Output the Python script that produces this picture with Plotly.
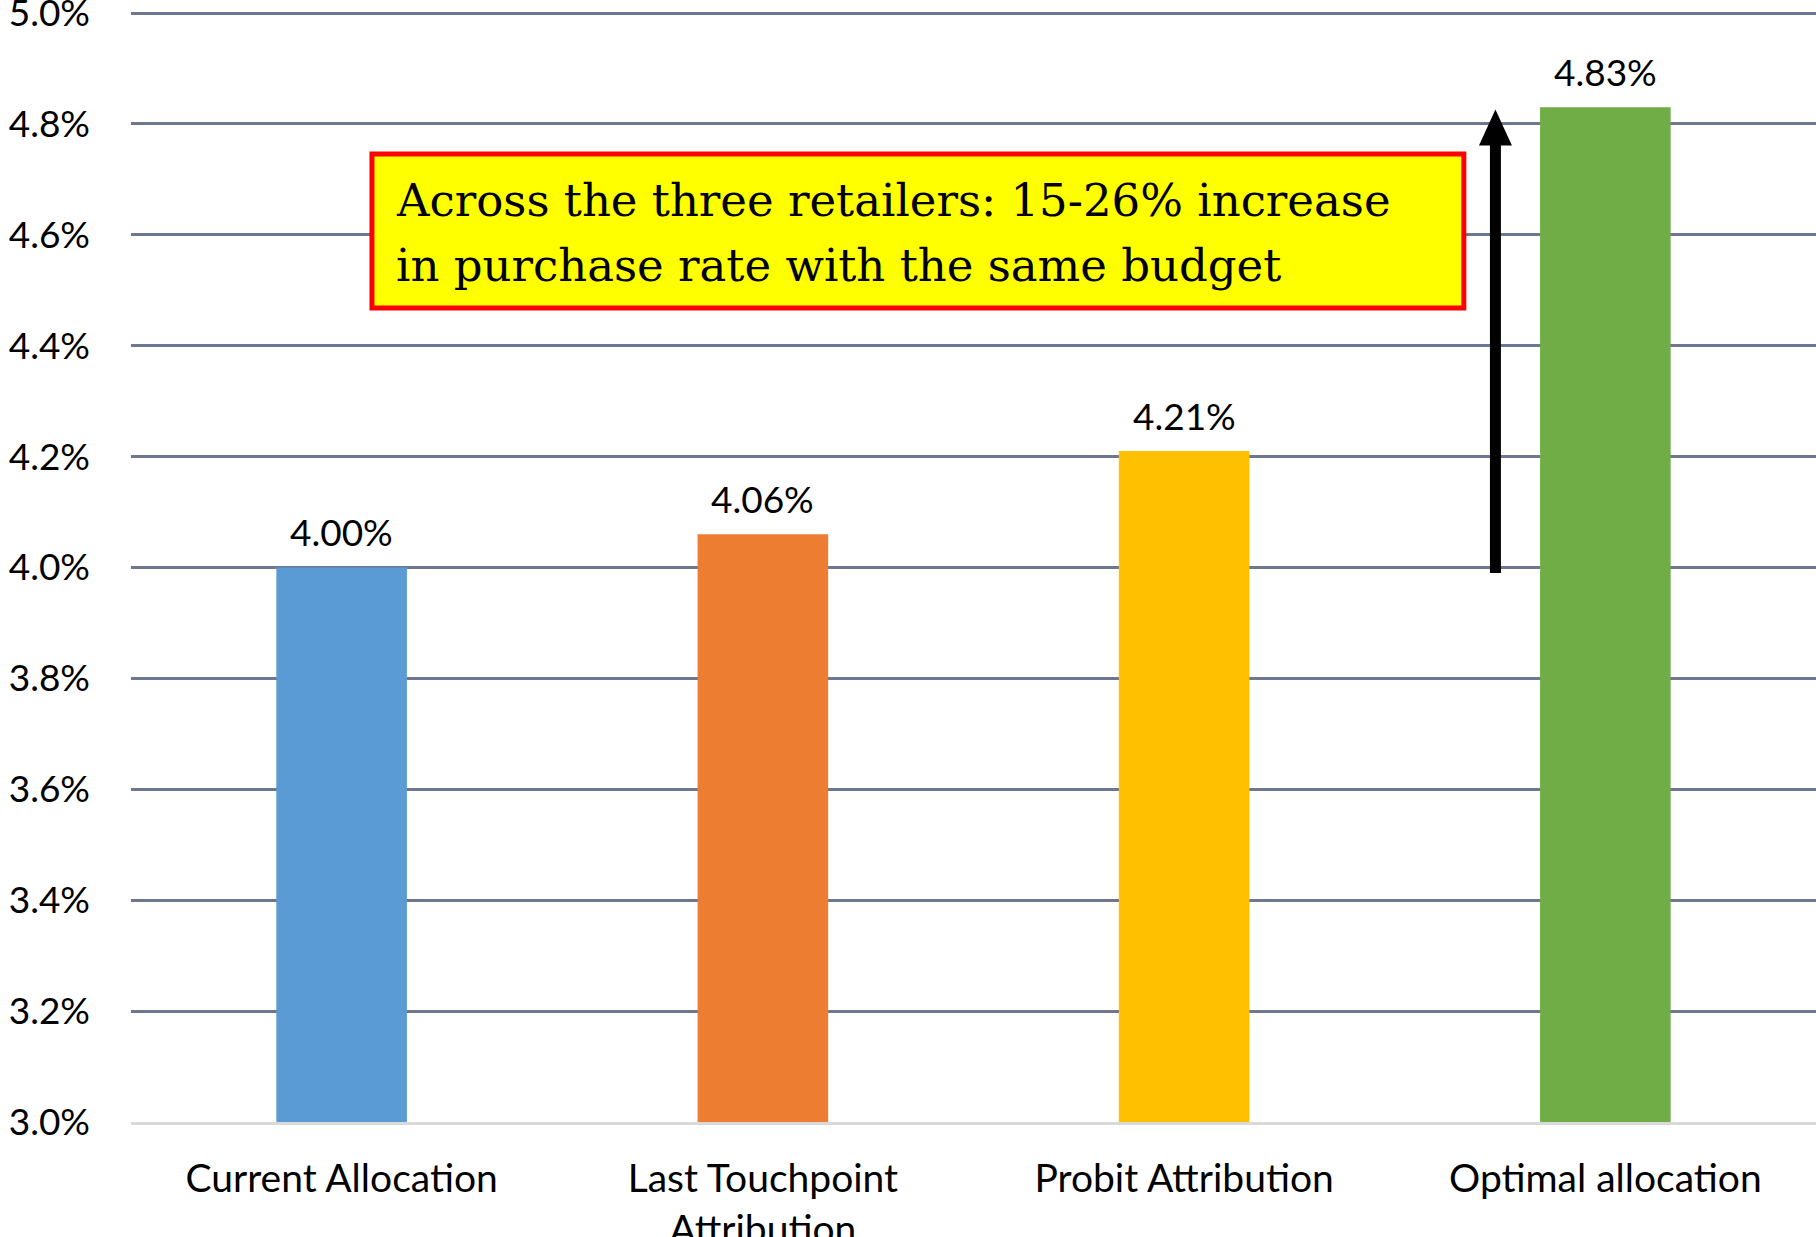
import plotly.graph_objects as go

# Purchase rate under each budget allocation strategy
categories = ["Current Allocation", "Last Touchpoint Attribution",
              "Probit Attribution", "Optimal allocation"]
tick_labels = ["Current Allocation", "Last Touchpoint<br>Attribution",
               "Probit Attribution", "Optimal allocation"]
purchase_rate = [4.00, 4.06, 4.21, 4.83]
bar_colors = ["#5B9BD5", "#ED7D31", "#FFC000", "#70AD47"]
y_ticks = [3.0, 3.2, 3.4, 3.6, 3.8, 4.0, 4.2, 4.4, 4.6, 4.8, 5.0]

callout_lines = ["Across the three retailers: 15-26% increase",
                 "in purchase rate with the same budget"]

LABEL_FONT = dict(family="Lato", size=37, color="black")

fig = go.Figure(
    go.Bar(
        x=categories,
        y=purchase_rate,
        marker=dict(color=bar_colors, line=dict(width=0)),
        width=0.31,
        hoverinfo="skip",
    )
)

# Value labels above each bar
for cat, val in zip(categories, purchase_rate):
    fig.add_annotation(
        x=cat, y=val, xref="x", yref="y",
        text=f"{val:.2f}%", showarrow=False,
        yanchor="middle", yshift=36,
        font=LABEL_FONT,
    )

# Callout box (pixel layout: plot area spans y = 2 .. 1122)
def py(px):
    return (1122 - px) / 1120

fig.add_shape(
    type="rect", xref="paper", yref="paper",
    x0=0.143, x1=0.791, y0=py(308), y1=py(154),
    fillcolor="#FFFF00", line=dict(color="#FF0000", width=5),
    layer="above",
)
for line_text, y_px in zip(callout_lines, [200, 265]):
    fig.add_annotation(
        xref="paper", yref="paper", x=0.156, y=py(y_px),
        xanchor="left", yanchor="middle", align="left",
        text=line_text, showarrow=False,
        font=dict(family="DejaVu Serif", size=45, color="black"),
    )

# Upward arrow from the baseline level to the optimal level
arrow_x = 2.739
fig.add_shape(
    type="line", xref="x", yref="y",
    x0=arrow_x, x1=arrow_x, y0=3.99, y1=4.77,
    line=dict(color="black", width=11), layer="above",
)
fig.add_shape(
    type="path", xref="x", yref="y",
    xsizemode="pixel", xanchor=arrow_x,
    path="M -16.5,4.761 L 16.5,4.761 L 0,4.826 Z",
    fillcolor="black", line=dict(color="black", width=0), layer="above",
)

fig.update_layout(
    width=1816, height=1237,
    margin=dict(l=131, r=0, t=2, b=115),
    paper_bgcolor="white", plot_bgcolor="white",
    showlegend=False,
    bargap=0.69,
    xaxis=dict(
        tickmode="array", tickvals=categories, ticktext=tick_labels,
        tickfont=dict(family="Lato", size=39, color="black"),
        showgrid=False, automargin=False,
        showline=True, linecolor="#D9D9D9", linewidth=3,
        ticks="", ticklabelstandoff=20,
    ),
    yaxis=dict(
        range=[3.0, 5.02], tickmode="array", tickvals=y_ticks,
        ticktext=[f"{v:.1f}%" for v in y_ticks],
        tickfont=LABEL_FONT, automargin=False,
        ticklabeloverflow="allow",
        showgrid=True, gridcolor="#6F7690", gridwidth=2.5,
        zeroline=False, showline=False, ticks="",
        ticklabelstandoff=40,
    ),
)

fig.write_html("out.html")
